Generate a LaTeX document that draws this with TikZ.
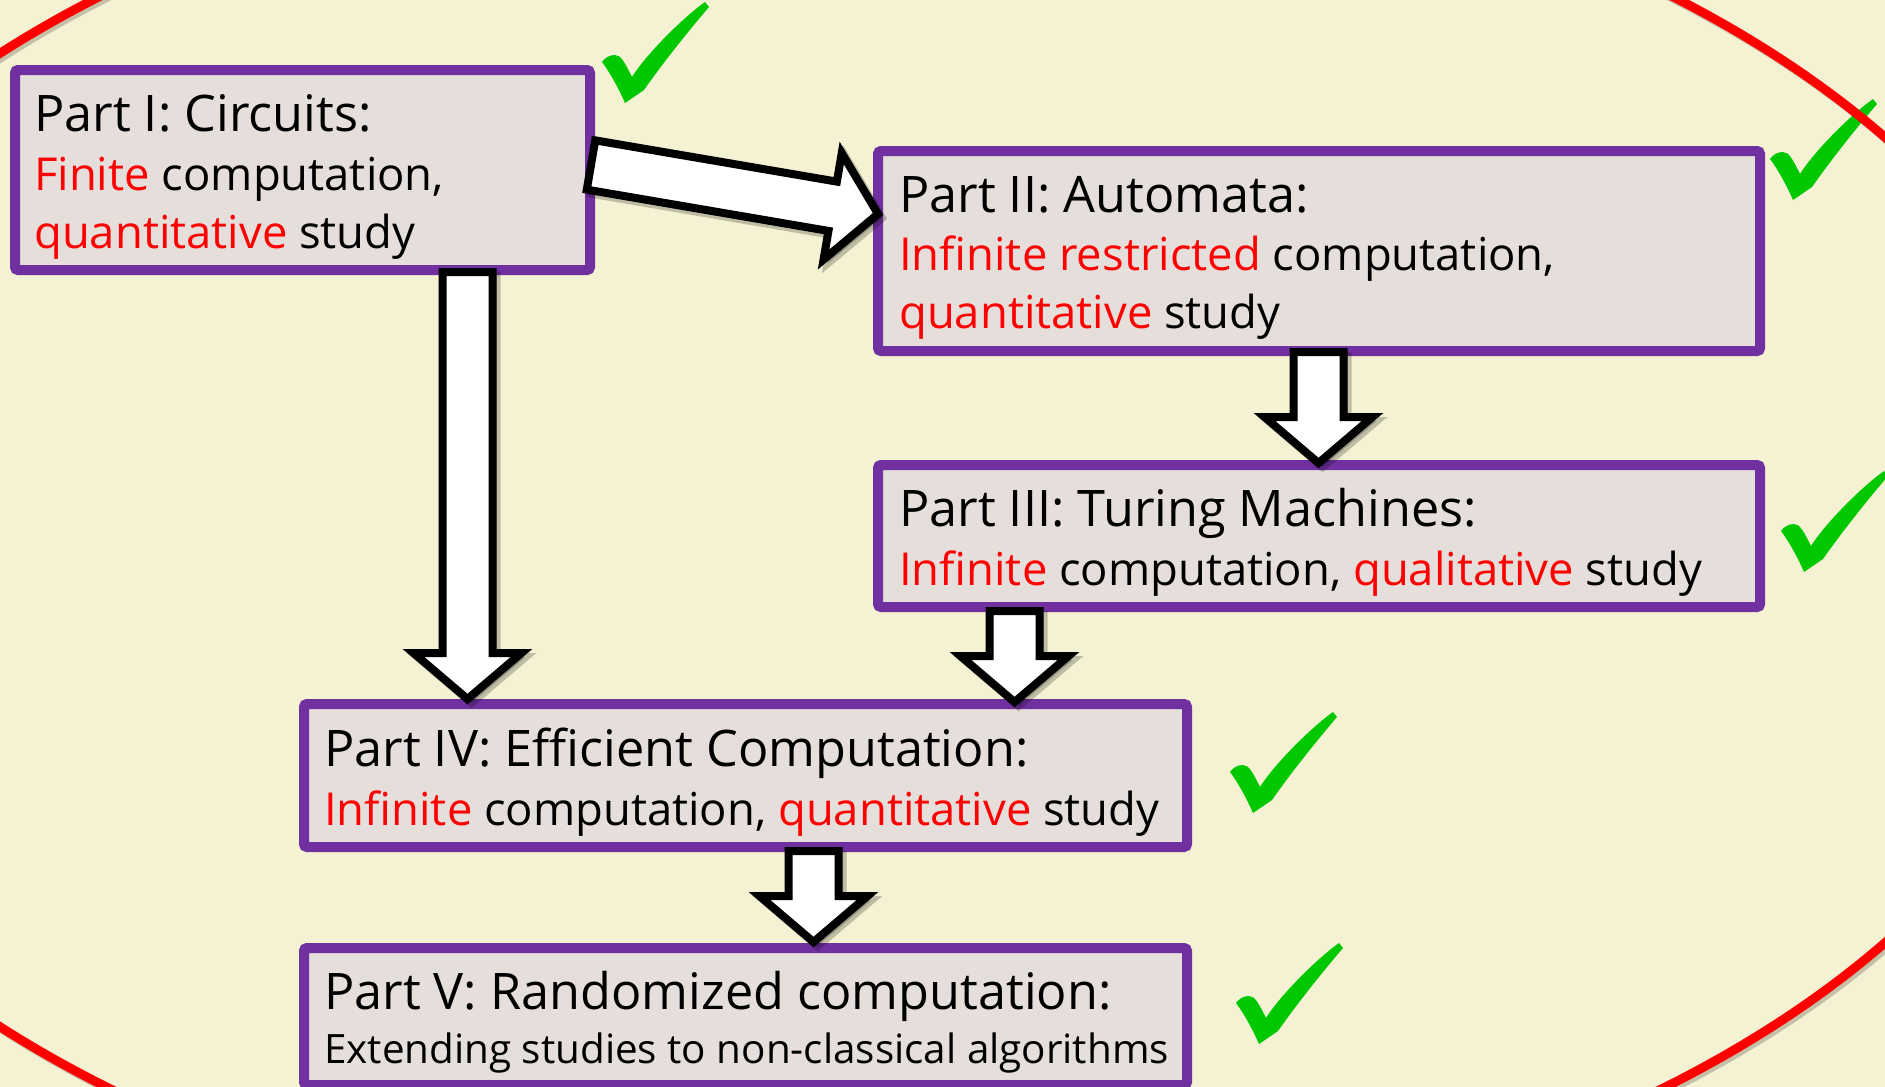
\documentclass[tikz,border=0pt]{standalone}
\usepackage{fontspec}
\setmainfont{Open Sans}
\usetikzlibrary{calc}
\definecolor{bg}{RGB}{245,241,211}
\definecolor{boxfill}{RGB}{229,222,219}
\definecolor{boxedge}{RGB}{112,48,160}
\definecolor{redtxt}{RGB}{255,0,0}
\definecolor{checkgreen}{RGB}{0,200,0}
\newcommand\hl[1]{\textcolor{redtxt}{#1}}
\newcommand\arrw{25pt}
\newcommand\arrH{54pt}
\newcommand\arrh{46pt}
% block arrow from coordinate #1 to coordinate #2 (tip)
\newcommand\blockarrow[2]{%
  \coordinate (#1-#2-h) at ($(#2)!\arrh!(#1)$);
  \draw[barrow] ($(#1)!\arrw!90:(#2)$) -- ($(#1-#2-h)!\arrw!90:(#2)$)
     -- ($(#1-#2-h)!\arrH!90:(#2)$) -- (#2) -- ($(#1-#2-h)!\arrH!-90:(#2)$)
     -- ($(#1-#2-h)!\arrw!-90:(#2)$) -- ($(#1)!\arrw!-90:(#2)$) -- cycle;}
\begin{document}
\begin{tikzpicture}[x=1pt,y=-1pt,
  partbox/.style={draw=boxedge, fill=boxfill, line width=10pt, rounded corners=3pt,
    outer sep=0pt, inner sep=0pt, anchor=north west},
  txt/.style={anchor=base west, inner sep=0pt, font=\fontsize{50.4}{60}\selectfont},
  bodytxt/.style={anchor=base west, inner sep=0pt, font=\fontsize{45.4}{54}\selectfont},
  smalltxt/.style={anchor=base west, inner sep=0pt, font=\fontsize{40.4}{46}\selectfont},
  barrow/.style={draw=black, fill=white, line width=8pt, line join=miter,
    preaction={draw=black, fill=black, opacity=0.22, line width=8pt,
      transform canvas={shift={(4pt,-4pt)}}}},
  gcheck/.pic={\fill[checkgreen] (0,0) -- (19,-13) .. controls (35,-36) and (60,-68) .. (84,-96)
      -- (80,-101) .. controls (60,-87) and (22,-50) .. (7,-26)
      .. controls (0,-40) and (-4,-48) .. (-10,-48)
      .. controls (-16,-48) and (-20,-45) .. (-23,-41)
      .. controls (-16,-32) and (-6,-14) .. (0,0) -- cycle;},
  ring/.style={draw=redtxt, line width=9pt}]
\useasboundingbox (0,0) rectangle (1885,1087);
\fill[bg] (0,0) rectangle (1885,1087);
\clip (0,0) rectangle (1885,1087);

% boxes
\node[partbox, minimum width=575pt, minimum height=200pt] (b1) at (15,70) {};
\node[partbox, minimum width=882pt, minimum height=200pt] (b2) at (878,151) {};
\node[partbox, minimum width=882pt, minimum height=142pt] (b3) at (878,465) {};
\node[partbox, minimum width=883pt, minimum height=143pt] (b4) at (304,704) {};
\node[partbox, minimum width=883pt, minimum height=137pt] (b5) at (304,948) {};

% texts
\node[txt] (t1a) at ($(b1.north west)+(19,61)$) {Part I: Circuits:};
\node[bodytxt] (t1b) at ($(b1.north west)+(19,120)$) {\hl{Finite} computation,};
\node[bodytxt] (t1c) at ($(b1.north west)+(19,178)$) {\hl{quantitative} study};
\node[txt] (t2a) at ($(b2.north west)+(21,61)$) {Part II: Automata:};
\node[bodytxt] (t2b) at ($(b2.north west)+(21,119)$) {\hl{Infinite restricted} computation,};
\node[bodytxt] (t2c) at ($(b2.north west)+(21,177)$) {\hl{quantitative} study};
\node[txt] (t3a) at ($(b3.north west)+(21,61)$) {Part III: Turing Machines:};
\node[bodytxt] (t3b) at ($(b3.north west)+(21,120)$) {\hl{Infinite} computation, \hl{qualitative} study};
\node[txt] (t4a) at ($(b4.north west)+(20,62)$) {Part IV: Efficient Computation:};
\node[bodytxt] (t4b) at ($(b4.north west)+(20,121)$) {\hl{Infinite} computation, \hl{quantitative} study};
\node[txt] (t5a) at ($(b5.north west)+(20,61)$) {Part V: Randomized computation:};
\node[smalltxt] (t5b) at ($(b5.north west)+(20,115)$) {Extending studies to non-classical algorithms};

% arrow end points
\coordinate (a12s) at (591,165);   \coordinate (a12e) at (878,214);
\coordinate (a14s) at (467.5,272); \coordinate (a14e) at (467.5,699);
\coordinate (a23s) at (1318.5,352);\coordinate (a23e) at (1318.5,463);
\coordinate (a34s) at (1014.5,611);\coordinate (a34e) at (1014.5,702);
\coordinate (a45s) at (813.5,851); \coordinate (a45e) at (813.5,942);
\blockarrow{a12s}{a12e}
\blockarrow{a14s}{a14e}
\blockarrow{a23s}{a23e}
\blockarrow{a34s}{a34e}
\blockarrow{a45s}{a45e}

% check marks
\pic at (625,103) {gcheck};
\pic at (1793,200) {gcheck};
\pic at (1804,572) {gcheck};
\pic at (1253,813) {gcheck};
\pic at (1259,1044) {gcheck};

% red ellipse
\draw[ring, draw=black, opacity=0.2, transform canvas={shift={(3pt,-3pt)}}] (886,540) ellipse [x radius=1208, y radius=716];
\draw[ring] (886,540) ellipse [x radius=1208, y radius=716];
\end{tikzpicture}
\end{document}
